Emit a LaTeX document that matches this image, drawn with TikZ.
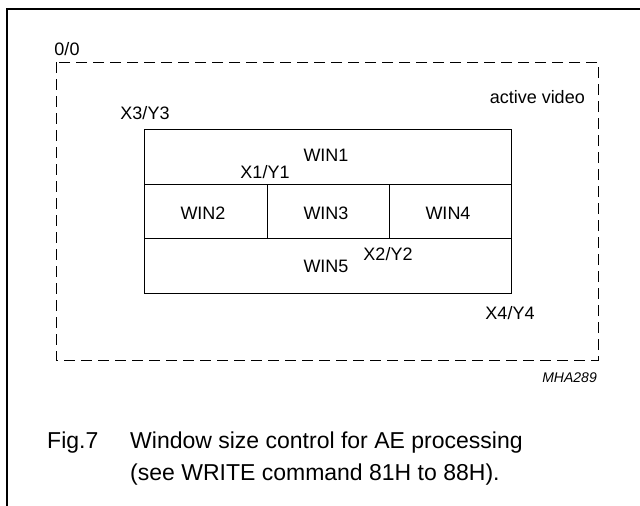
\documentclass[tikz,border=0pt]{standalone}
\usepackage{fontspec}
\setmainfont{Liberation Sans}

\begin{document}
\begin{tikzpicture}[x=1pt,y=-1pt,
    lbl/.style={font=\fontsize{18}{21}\selectfont, inner sep=0pt},
    captext/.style={font=\fontsize{23}{31}\selectfont, inner sep=0pt, anchor=base west},
    dashframe/.style={dash pattern=on 11pt off 6pt, line width=0.9pt}]

        \useasboundingbox (0,0) rectangle (640,506);

        % Outer frame (top and left only)
        \draw[line width=1.6pt] (640,9) -- (7,9) -- (7,506);

        % Active video area
        \draw[dashframe] (56,62) rectangle (598,360);
        \node[lbl] (origin) at (67,49) {0/0};
        \node[lbl, anchor=east] (active) at (585,97) {active video};

        % Window block
        \draw[line width=0.9pt] (144,129) rectangle (511,293);
        \draw[line width=0.9pt] (144,184) -- (511,184);
        \draw[line width=0.9pt] (144,238) -- (511,238);
        \draw[line width=0.9pt] (267,184) -- (267,238);
        \draw[line width=0.9pt] (389,184) -- (389,238);

        % Window names
        \node[lbl] (win1) at (326,155) {WIN1};
        \node[lbl] (win2) at (203,213) {WIN2};
        \node[lbl] (win3) at (326,213) {WIN3};
        \node[lbl] (win4) at (448,213) {WIN4};
        \node[lbl] (win5) at (326,266) {WIN5};

        % Corner coordinates
        \node[lbl] (xy3) at (145,113) {X3/Y3};
        \node[lbl] (xy1) at (265,172) {X1/Y1};
        \node[lbl] (xy2) at (388,254) {X2/Y2};
        \node[lbl] (xy4) at (510,313) {X4/Y4};

        % Drawing number
        \node[inner sep=0pt, anchor=east, font=\fontsize{14}{16}\selectfont\itshape]
            (code) at (597,378) {MHA289};

        % Caption
        \node[captext] (fignum) at (47,448) {Fig.7};
        \node[captext] (caption) at (130,448)
            {Window size control for AE processing};
        \node[captext] (caption2) at (130,480)
            {(see WRITE command 81H to 88H).};

    \end{tikzpicture}
\end{document}
